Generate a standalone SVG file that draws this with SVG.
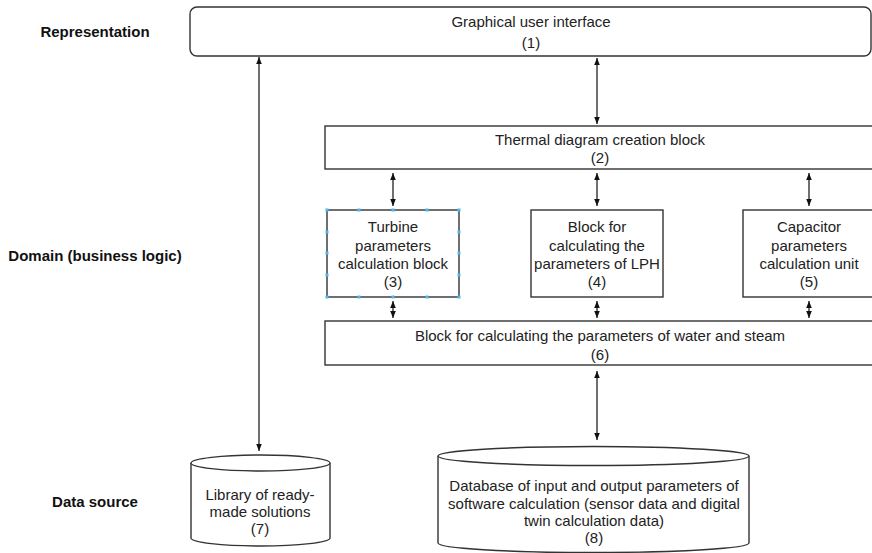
<svg xmlns="http://www.w3.org/2000/svg" width="872" height="553" viewBox="0 0 872 553">
  <style>
    .box { fill: #ffffff; stroke: #333333; stroke-width: 1.4; }
    .txt { font-family: "Liberation Sans", Arial, sans-serif; font-size: 15px; fill: #222222; text-anchor: middle; dominant-baseline: central; }
    .lbl { font-family: "Liberation Sans", Arial, sans-serif; font-size: 15px; font-weight: bold; fill: #111111; text-anchor: middle; dominant-baseline: central; }
    .conn { stroke: #222222; stroke-width: 1.3; fill: none; marker-start: url(#head); marker-end: url(#head); }
    .handle { fill: #4fb8f0; }
  </style>
  <defs>
    <marker id="head" viewBox="0 0 8 8" refX="8" refY="4" markerWidth="7" markerHeight="7" markerUnits="userSpaceOnUse" orient="auto-start-reverse">
      <path d="M0,0.8 L8,4 L0,7.2 Z" fill="#111111"/>
    </marker>
  </defs>
  <rect width="872" height="553" fill="#ffffff"/>

  <!-- layer labels -->
  <g id="layer-labels">
    <text class="lbl" x="95" y="31">Representation</text>
    <text class="lbl" x="95" y="255">Domain (business logic)</text>
    <text class="lbl" x="95" y="501">Data source</text>
  </g>

  <!-- connectors -->
  <g id="connectors">
    <line class="conn" x1="259" y1="57" x2="259" y2="451"/>
    <line class="conn" x1="597" y1="58" x2="597" y2="124"/>
    <line class="conn" x1="393" y1="173" x2="393" y2="206"/>
    <line class="conn" x1="597" y1="173" x2="597" y2="206"/>
    <line class="conn" x1="809" y1="173" x2="809" y2="206"/>
    <line class="conn" x1="393" y1="301" x2="393" y2="318"/>
    <line class="conn" x1="597" y1="301" x2="597" y2="318"/>
    <line class="conn" x1="809" y1="301" x2="809" y2="318"/>
    <line class="conn" x1="597" y1="371" x2="597" y2="440"/>
  </g>

  <g id="n1">
    <rect class="box" x="190" y="7" width="681" height="49" rx="7"/>
    <text class="txt" x="531" y="21">Graphical user interface</text>
    <text class="txt" x="531" y="42">(1)</text>
  </g>

  <g id="n2">
    <rect class="box" x="325" y="126" width="560" height="43"/>
    <text class="txt" x="600" y="139">Thermal diagram creation block</text>
    <text class="txt" x="600" y="157">(2)</text>
  </g>

  <g id="n3">
    <rect class="box" x="327" y="210" width="132" height="87"/>
    <text class="txt" x="393" y="226">Turbine</text>
    <text class="txt" x="393" y="245">parameters</text>
    <text class="txt" x="393" y="263">calculation block</text>
    <text class="txt" x="393" y="281">(3)</text>
    <g class="handle">
      <rect x="325.5" y="208.5" width="3" height="3"/>
      <rect x="357.5" y="208.5" width="3" height="3"/>
      <rect x="391.5" y="208.5" width="3" height="3"/>
      <rect x="425.5" y="208.5" width="3" height="3"/>
      <rect x="457.5" y="208.5" width="3" height="3"/>
      <rect x="325.5" y="295.5" width="3" height="3"/>
      <rect x="357.5" y="295.5" width="3" height="3"/>
      <rect x="391.5" y="295.5" width="3" height="3"/>
      <rect x="425.5" y="295.5" width="3" height="3"/>
      <rect x="457.5" y="295.5" width="3" height="3"/>
      <rect x="325.5" y="230.5" width="3" height="3"/>
      <rect x="325.5" y="251.5" width="3" height="3"/>
      <rect x="325.5" y="273.5" width="3" height="3"/>
      <rect x="457.5" y="230.5" width="3" height="3"/>
      <rect x="457.5" y="251.5" width="3" height="3"/>
      <rect x="457.5" y="273.5" width="3" height="3"/>
    </g>
  </g>

  <g id="n4">
    <rect class="box" x="531" y="210" width="132" height="87"/>
    <text class="txt" x="597" y="226">Block for</text>
    <text class="txt" x="597" y="245">calculating the</text>
    <text class="txt" x="597" y="263">parameters of LPH</text>
    <text class="txt" x="597" y="281">(4)</text>
  </g>

  <g id="n5">
    <rect class="box" x="743" y="210" width="132" height="87"/>
    <text class="txt" x="809" y="226">Capacitor</text>
    <text class="txt" x="809" y="245">parameters</text>
    <text class="txt" x="809" y="263">calculation unit</text>
    <text class="txt" x="809" y="281">(5)</text>
  </g>

  <g id="n6">
    <rect class="box" x="325" y="321" width="560" height="44"/>
    <text class="txt" x="600" y="335">Block for calculating the parameters of water and steam</text>
    <text class="txt" x="600" y="354">(6)</text>
  </g>

  <g id="n7">
    <path class="box" d="M191,463 L191,538 A69.5,8 0 0 0 330,538 L330,463 A69.5,8 0 0 0 191,463 Z"/>
    <path class="box" d="M191,463 A69.5,8 0 0 0 330,463" fill="none"/>
    <text class="txt" x="260" y="494">Library of ready-</text>
    <text class="txt" x="260" y="511">made solutions</text>
    <text class="txt" x="260" y="528">(7)</text>
  </g>

  <g id="n8">
    <path class="box" d="M438,456 L438,543 A155.5,9.5 0 0 0 749,543 L749,456 A155.5,9.5 0 0 0 438,456 Z"/>
    <path class="box" d="M438,456 A155.5,9.5 0 0 0 749,456" fill="none"/>
    <text class="txt" x="594" y="485">Database of input and output parameters of</text>
    <text class="txt" x="594" y="503">software calculation (sensor data and digital</text>
    <text class="txt" x="594" y="520">twin calculation data)</text>
    <text class="txt" x="594" y="537">(8)</text>
  </g>
</svg>
